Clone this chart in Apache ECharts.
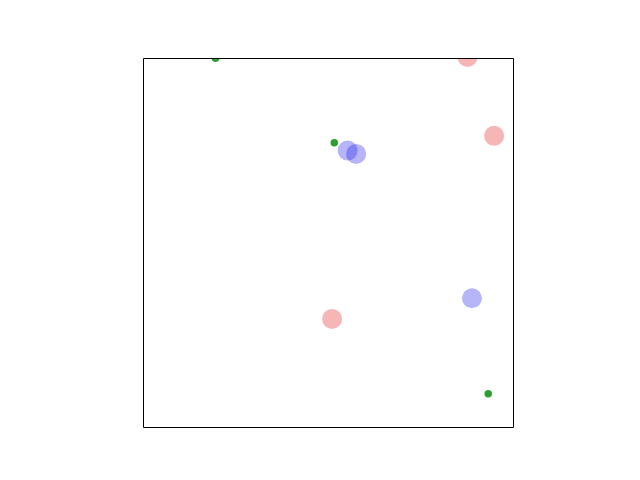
<!DOCTYPE html>
<html><head><meta charset="utf-8">
<script src="https://cdn.jsdelivr.net/npm/echarts@6/dist/echarts.min.js"></script>
<style>html,body{margin:0;padding:0;background:#fff}#c{width:640px;height:480px}</style>
</head><body><div id="c"></div>
<script>
const redPoints = [[0.877, 1.003], [0.949, 0.789], [0.511, 0.293]];
const bluePoints = [[0.553, 0.749], [0.576, 0.740], [0.889, 0.349]];
const greenPoints = [[0.196, 0.999], [0.517, 0.770], [0.933, 0.090]];

const G = {left: 143, top: 58, width: 370, height: 369};
const chart = echarts.init(document.getElementById('c'));
const maskStyle = {fill: '#fff'};
chart.setOption({
  animation: false,
  grid: {left: G.left, top: G.top, width: G.width, height: G.height, show: false},
  xAxis: {type: 'value', min: 0, max: 1, show: false},
  yAxis: {type: 'value', min: 0, max: 1, show: false},
  series: [
    {type: 'scatter', data: redPoints, symbolSize: 20, clip: false,
     itemStyle: {color: 'rgb(228,14,14)', opacity: 0.3}},
    {type: 'scatter', data: bluePoints, symbolSize: 20, clip: false,
     itemStyle: {color: 'rgb(10,10,232)', opacity: 0.3}},
    {type: 'scatter', data: greenPoints, symbolSize: 7.5, clip: false,
     itemStyle: {color: '#2ca02c', opacity: 1}}
  ],
  graphic: [
    {type: 'rect', z: 100, shape: {x: 0, y: 0, width: 640, height: G.top}, style: maskStyle},
    {type: 'rect', z: 100, shape: {x: 0, y: G.top + G.height, width: 640, height: 480}, style: maskStyle},
    {type: 'rect', z: 100, shape: {x: 0, y: 0, width: G.left, height: 480}, style: maskStyle},
    {type: 'rect', z: 100, shape: {x: G.left + G.width, y: 0, width: 200, height: 480}, style: maskStyle},
    {type: 'rect', z: 101, shape: {x: G.left + 0.5, y: G.top + 0.5, width: G.width, height: G.height},
     style: {fill: 'none', stroke: '#000', lineWidth: 1}}
  ]
});
</script></body></html>
